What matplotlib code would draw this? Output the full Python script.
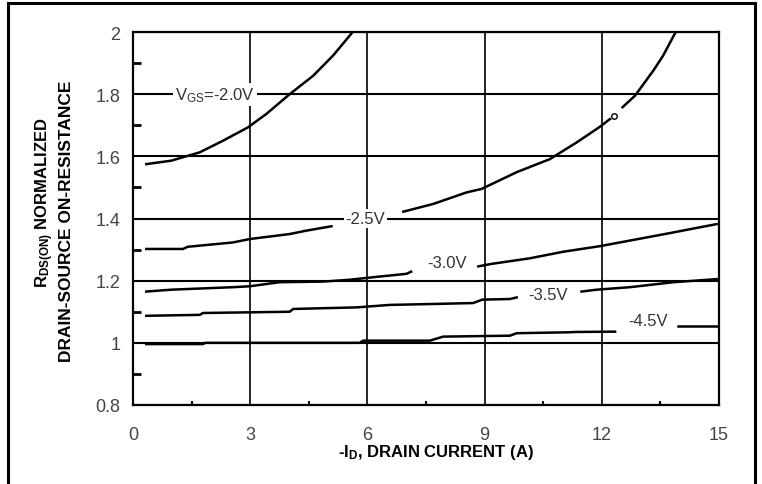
import matplotlib
matplotlib.use("Agg")
import matplotlib.pyplot as plt
from matplotlib.lines import Line2D

plt.rcParams['font.family'] = ['Liberation Sans', 'DejaVu Sans']
plt.rcParams['mathtext.fontset'] = 'custom'
plt.rcParams['mathtext.rm'] = 'Liberation Sans'
plt.rcParams['mathtext.it'] = 'Liberation Sans'
plt.rcParams['mathtext.bf'] = 'Liberation Sans:bold'

# curves, split where the labels break them
vgs20_x = [0.34, 0.98, 1.71, 2.30, 2.94, 3.41, 4.01, 4.61, 5.12, 5.59]
vgs20_y = [1.575, 1.586, 1.613, 1.650, 1.693, 1.736, 1.800, 1.859, 1.924, 1.995]

vgs25a_x = [0.34, 1.28, 1.40, 2.56, 2.99, 4.01, 4.44, 5.08]
vgs25a_y = [1.302, 1.302, 1.309, 1.323, 1.334, 1.350, 1.361, 1.375]
vgs25b_x = [6.92, 7.69, 8.54, 8.92, 9.82, 10.67, 11.36, 11.95, 12.21]
vgs25b_y = [1.422, 1.447, 1.484, 1.495, 1.549, 1.591, 1.645, 1.695, 1.720]
vgs25c_x = [12.53, 12.85, 13.32, 13.57, 13.87]
vgs25c_y = [1.758, 1.795, 1.876, 1.924, 1.995]
marker_x = [12.32]
marker_y = [1.731]

vgs30a_x = [0.34, 0.98, 2.56, 2.99, 3.75, 4.86, 5.55, 6.14, 7.00, 7.12]
vgs30a_y = [1.165, 1.171, 1.179, 1.182, 1.195, 1.197, 1.203, 1.211, 1.222, 1.229]
vgs30b_x = [8.84, 9.18, 10.16, 11.01, 11.95, 12.72, 13.74, 14.94]
vgs30b_y = [1.246, 1.254, 1.272, 1.293, 1.311, 1.329, 1.353, 1.382]

vgs35a_x = [0.34, 1.71, 1.79, 4.01, 4.10, 5.72, 6.57, 7.68, 8.71, 8.94, 9.65, 9.82]
vgs35a_y = [1.087, 1.090, 1.096, 1.100, 1.109, 1.114, 1.122, 1.125, 1.128, 1.139, 1.141, 1.146]
vgs35b_x = [11.48, 11.87, 12.72, 13.83, 14.94]
vgs35b_y = [1.165, 1.171, 1.179, 1.195, 1.205]

vgs45a_x = [0.34, 1.79, 1.85, 5.80, 5.89, 7.60, 7.94, 9.65, 9.82, 11.18, 11.35, 12.34]
vgs45a_y = [0.996, 0.996, 1.000, 1.000, 1.007, 1.007, 1.020, 1.023, 1.031, 1.034, 1.035, 1.036]
vgs45b_x = [13.96, 14.94]
vgs45b_y = [1.053, 1.053]

label_text = [r'V$_{\mathrm{GS}}$=-2.0V', '-2.5V', '-3.0V', '-3.5V', '-4.5V']
label_x = [2.09, 5.95, 8.04, 10.63, 13.19]
label_y = [1.80, 1.40, 1.259, 1.157, 1.071]

x_ticks = [0, 3, 6, 9, 12, 15]
y_ticks = [0.8, 1, 1.2, 1.4, 1.6, 1.8, 2]
y_tick_labels = ['0.8', '1', '1.2', '1.4', '1.6', '1.8', '2']

fig = plt.figure(figsize=(7.62, 4.85), dpi=100)
ax = fig.add_axes([133 / 762, 1 - 406 / 485, 586 / 762, 373 / 485])

ax.set_xlim(0, 15)
ax.set_ylim(0.8, 2)
ax.set_xticks(x_ticks)
ax.set_yticks(y_ticks)
ax.set_yticklabels(y_tick_labels)
ax.set_xticks([1.5, 4.5, 7.5, 10.5, 13.5], minor=True)
ax.set_yticks([0.9, 1.1, 1.3, 1.5, 1.7, 1.9], minor=True)
ax.tick_params(which='major', length=0, labelsize=13, labelcolor='#444444')
ax.tick_params(axis='x', which='major', pad=15)
ax.tick_params(axis='y', which='major', pad=9)
ax.tick_params(axis='y', which='minor', direction='in', length=6, width=2, color='black')
ax.tick_params(axis='x', which='minor', direction='in', length=3, width=1.5, color='black')

ax.set_axisbelow(True)
ax.grid(True, which='major', axis='y', color='black', linewidth=1.5)
ax.grid(True, which='major', axis='x', color='black', linewidth=1.2)
for s in ax.spines.values():
    s.set_linewidth(1.6)

curves = [(vgs20_x, vgs20_y), (vgs25a_x, vgs25a_y), (vgs25b_x, vgs25b_y),
          (vgs25c_x, vgs25c_y), (vgs30a_x, vgs30a_y), (vgs30b_x, vgs30b_y),
          (vgs35a_x, vgs35a_y), (vgs35b_x, vgs35b_y), (vgs45a_x, vgs45a_y),
          (vgs45b_x, vgs45b_y)]
for cx, cy in curves:
    ax.plot(cx, cy, color='black', linewidth=1.8, zorder=4)
ax.plot(marker_x, marker_y, 'o', markersize=4, markerfacecolor='white',
        markeredgecolor='black', markeredgewidth=1, zorder=5)

for i in range(len(label_text)):
    ax.text(label_x[i], label_y[i], label_text[i], fontsize=12, color='#333333',
            ha='center', va='center', zorder=3,
            bbox=dict(facecolor='white', edgecolor='none', pad=1.5))

fig.text(436 / 762, 1 - 453 / 485, r'-I$_{\mathregular{D}}$, DRAIN CURRENT (A)',
         fontsize=12, fontweight='bold', ha='center', va='center')
fig.text(45 / 762, 1 - 203 / 485, r'R$_{\mathregular{DS(ON)}}$ NORMALIZED',
         fontsize=12, fontweight='bold', rotation=90, ha='center', va='center')
fig.text(67 / 762, 1 - 221 / 485, 'DRAIN-SOURCE ON-RESISTANCE',
         fontsize=12.5, fontweight='bold', rotation=90, ha='center', va='center')

# outer frame
fig.add_artist(Line2D([7.5 / 762, 7.5 / 762], [0, 1 - 3.5 / 485], color='black', linewidth=2.2))
fig.add_artist(Line2D([7.5 / 762, 755 / 762], [1 - 3.5 / 485, 1 - 3.5 / 485], color='black', linewidth=2.2))
fig.add_artist(Line2D([755 / 762, 755 / 762], [0, 1 - 3.5 / 485], color='black', linewidth=2.2))

fig.savefig('out.png', dpi=100)
